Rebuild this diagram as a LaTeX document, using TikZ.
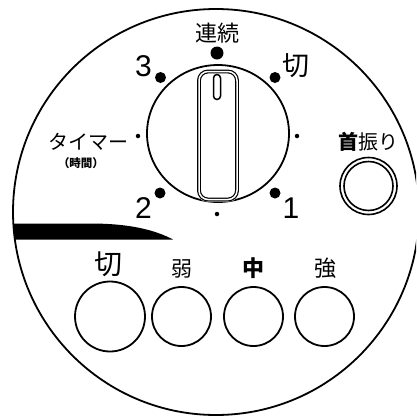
\documentclass[tikz,border=0pt]{standalone}
\usepackage{fontspec}
\newfontfamily\jp{Noto Sans CJK JP}
\newfontfamily\lat{Liberation Sans}
\begin{document}
\begin{tikzpicture}[x=1pt,y=-1pt,
  line/.style={line width=1.8pt},
  btn/.style={circle, draw, line width=1.8pt, inner sep=0pt},
  lab/.style={inner sep=0pt, font=\jp},
  num/.style={inner sep=0pt, font=\lat\fontsize{30}{30}\selectfont},
  bigdot/.style={circle, fill, inner sep=0pt, minimum size=11pt},
  smalldot/.style={circle, fill, inner sep=0pt, minimum size=4.5pt}]
\useasboundingbox (0,0) rectangle (416,416);
\clip (0,0) rectangle (416,416);
\fill[white] (0,0) rectangle (416,416);
% face
\node[btn, minimum size=406pt] (face) at (216,212) {};
% black wedge
\begin{scope}
  \clip (216,212) circle (203pt);
  \fill (0,223.5) -- (90,223.5) .. controls (130,223.5) and (155,230) .. (173,239.5) -- (0,239.5) -- cycle;
\end{scope}
% dial
\draw[line] (218,133.5) ellipse (71pt and 68.5pt);
\coordinate (dc) at (217.5,134.5);
% knob
\fill[white, rounded corners=10pt] (197,69.5) rectangle (239,201.5);
\draw[line width=1.2pt, double=white, double distance=1.5pt, rounded corners=9pt] (199,71.5) rectangle (237,199.5);
\draw[line width=1.5pt, rounded corners=3.5pt] (213.5,74.5) rectangle (220.5,99.5);
% dots
\node[bigdot, minimum size=13pt] (d0) at (217,53) {};
\node[bigdot] (d3) at (160.5,77.5) {};
\node[bigdot] (dk) at (275,77.5) {};
\node[bigdot] (d2) at (160,193) {};
\node[bigdot] (d1) at (275,193) {};
\node[smalldot] (dl) at (138,136) {};
\node[smalldot] (dr) at (297,136) {};
\node[smalldot] (db) at (217,214) {};
% dial labels
\node[lab, font=\jp\fontsize{22}{22}\selectfont] (renzoku) at (217,33) {連続};
\node[num] (n3) at (143.5,66) {3};
\node[lab, font=\jp\fontsize{27}{27}\selectfont] (kiri1) at (296,66) {切};
\node[num] (n2) at (143.5,208.5) {2};
\node[num] (n1) at (291,208.5) {1};
\node[lab, font=\jp\fontsize{20}{20}\selectfont] (timer) at (88.5,142) {タイマー};
\node[lab, font=\jp\bfseries\fontsize{11.5}{11.5}\selectfont] (jikan) at (81,163) {（時間）};
% swing
\node[lab, font=\jp\fontsize{20}{20}\selectfont] (kubi) at (368.5,142) {\textbf{首}振り};
\node[circle, draw, line width=1.6pt, minimum size=57pt, inner sep=0pt] (swing) at (368.5,186) {};
\node[circle, draw, line width=1.6pt, minimum size=49pt, inner sep=0pt] (swingin) at (368.5,186) {};
% speed buttons
\node[btn, minimum size=70pt] (b0) at (110,316.5) {};
\node[btn, minimum size=59pt] (b1) at (181.5,316.5) {};
\node[btn, minimum size=59pt] (b2) at (253.5,316.5) {};
\node[btn, minimum size=59pt] (b3) at (324.5,316.5) {};
\node[lab, font=\jp\fontsize{28}{28}\selectfont] (l0) at (108,264) {切};
\node[lab, font=\jp\fontsize{21}{21}\selectfont] (l1) at (182,269) {弱};
\node[lab, font=\jp\bfseries\fontsize{22}{22}\selectfont] (l2) at (253,268) {中};
\node[lab, font=\jp\fontsize{22}{22}\selectfont] (l3) at (325,268) {強};
\end{tikzpicture}
\end{document}
